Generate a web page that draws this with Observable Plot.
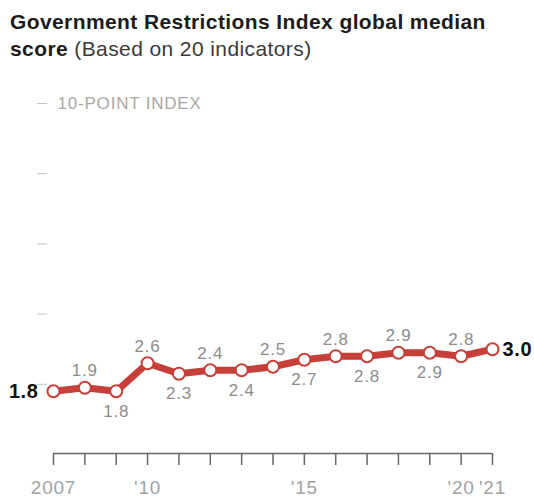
<!DOCTYPE html>
<html>
<head>
<meta charset="utf-8">
<script src="https://cdn.jsdelivr.net/npm/d3@7"></script>
<script src="https://cdn.jsdelivr.net/npm/@observablehq/plot@0.6"></script>
<style>
  body { margin: 0; background: #fff; font-family: "Liberation Sans", Arial, sans-serif; }
  #head { padding: 8px 0 0 10px; height: 56px; box-sizing: content-box; }
  #head .t { font-size: 21px; line-height: 27px; color: #1c1c1c; letter-spacing: 0.4px; white-space: nowrap; }
  #head b { font-weight: 700; }
  #head .s { color: #3a3a3a; font-weight: 400; letter-spacing: 0.4px; }
</style>
</head>
<body>
<div id="head"><div class="t"><b>Government Restrictions Index global median</b></div><div class="t"><b>score</b> <span class="s">(Based on 20 indicators)</span></div></div>
<div id="chart"></div>
<script>
const years = [2007, 2008, 2009, 2010, 2011, 2012, 2013, 2014, 2015, 2016, 2017, 2018, 2019, 2020, 2021];
const scores = [1.8, 1.9, 1.8, 2.6, 2.3, 2.4, 2.4, 2.5, 2.7, 2.8, 2.8, 2.9, 2.9, 2.8, 3.0];
const yTicks = [2, 4, 6, 8, 10];
const yTickLabel = "10-POINT INDEX";
const xLabelYears = [2007, 2010, 2015, 2020, 2021];
const xLabelTexts = ["2007", "'10", "'15", "'20", "'21"];

const data = years.map((year, i) => ({
  year, score: scores[i],
  pos: i === 0 ? "left" : i === years.length - 1 ? "right" : (i % 2 === 1 ? "above" : "below")
}));
const red = "#c63f38";
const gray = "#8c8c8c";
const font = "Liberation Sans, Arial, sans-serif";

const chart = Plot.plot({
  width: 534,
  height: 435,
  marginTop: 39,
  marginBottom: 45,
  marginLeft: 47,
  marginRight: 42,
  style: { fontFamily: font, background: "#fff" },
  x: { domain: [2007, 2021], range: [53, 492], label: null },
  y: { domain: [0, 10], label: null },
  marks: [
    Plot.axisY(yTicks, { anchor: "left", tickSize: 10, tickFormat: () => "", stroke: "#c4c4c4", label: null }),
    Plot.text([yTickLabel], { y: 10, frameAnchor: "left", dx: 10, textAnchor: "start", fill: "#a8a8a8", fontSize: 17 }),
    Plot.ruleY([0], { x1: 2007, x2: 2021, stroke: "#666", strokeWidth: 1.5, dy: -1 }),
    Plot.axisX(years, { anchor: "bottom", tickSize: 12, tickFormat: () => "", stroke: "#666", strokeWidth: 1.5, dy: -1, label: null }),
    Plot.text(xLabelYears, { x: d => d, y: 0, dy: 33, text: (d, i) => xLabelTexts[i], fill: "#a3a3a3", fontSize: 19 }),
    Plot.line(data, { x: "year", y: "score", stroke: red, strokeWidth: 7, strokeLinejoin: "round" }),
    Plot.dot(data, { x: "year", y: "score", r: 6, fill: "#fff", stroke: red, strokeWidth: 2 }),
    Plot.text(data.filter(d => d.pos === "above"), { x: "year", y: "score", text: d => d.score.toFixed(1), dy: -17, fill: gray, fontSize: 17 }),
    Plot.text(data.filter(d => d.pos === "below"), { x: "year", y: "score", text: d => d.score.toFixed(1), dy: 20, fill: gray, fontSize: 17 }),
    Plot.text(data.filter(d => d.pos === "left"), { x: "year", y: "score", text: d => d.score.toFixed(1), dx: -15, textAnchor: "end", fill: "#111", fontWeight: "bold", fontSize: 20 }),
    Plot.text(data.filter(d => d.pos === "right"), { x: "year", y: "score", text: d => d.score.toFixed(1), dx: 10, textAnchor: "start", fill: "#111", fontWeight: "bold", fontSize: 20 })
  ]
});
chart.querySelectorAll("text").forEach(t => {
  const fs = t.getAttribute("font-size") || t.parentNode.getAttribute("font-size");
  if (fs === "17") t.style.letterSpacing = "0.8px";
  if (fs === "19") t.style.letterSpacing = "0.8px";
  if (fs === "20") t.style.letterSpacing = "0.6px";
});
document.getElementById("chart").appendChild(chart);
</script>
</body>
</html>
